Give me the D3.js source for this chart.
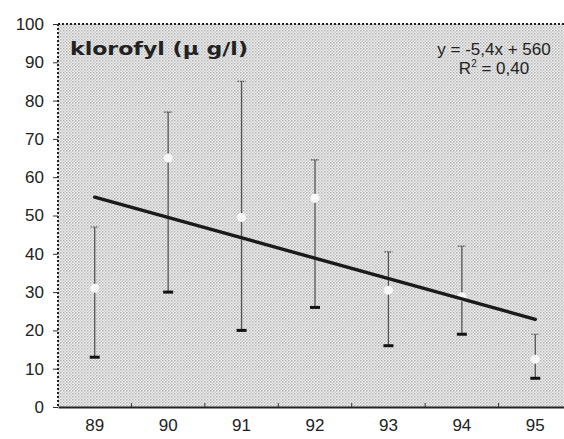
<!DOCTYPE html>
<html>
<head>
<meta charset="utf-8">
<script src="https://cdn.jsdelivr.net/npm/d3@7"></script>
<style>
  body { margin: 0; background: #fff; }
  svg { display: block; }
  text { font-family: "Liberation Sans", Arial, sans-serif; fill: #222; }
</style>
</head>
<body>
<svg width="564" height="439"></svg>
<script>
// chart data
const years = ["89", "90", "91", "92", "93", "94", "95"];
const means = [31, 65, 49.5, 54.5, 30.5, 28.8, 12.5];
const highs = [47, 77, 85, 64.5, 40.5, 42, 19];
const lows = [13, 30, 20, 26, 16, 19, 7.5];
const trend = [54.8, 22.9]; // fitted line at first and last year
const yTicks = [0, 10, 20, 30, 40, 50, 60, 70, 80, 90, 100];

const svg = d3.select("svg");
const plotLeft = 58, plotRight = 572, plotTop = 24, plotBottom = 407;

const x = d3.scaleBand().domain(years).range([plotLeft, plotRight]).padding(0);
const y = d3.scaleLinear().domain([0, 100]).range([plotBottom, plotTop]);

// halftone background
const defs = svg.append("defs");
const pat = defs.append("pattern")
  .attr("id", "dots")
  .attr("width", 3).attr("height", 3)
  .attr("patternUnits", "userSpaceOnUse");
pat.append("rect").attr("width", 3).attr("height", 3).attr("fill", "#ededed");
pat.append("rect").attr("x", 0).attr("y", 0).attr("width", 1.5).attr("height", 1.5).attr("fill", "#b6b6b6");
pat.append("rect").attr("x", 1.5).attr("y", 1.5).attr("width", 1.5).attr("height", 1.5).attr("fill", "#cbcbcb");

svg.append("rect")
  .attr("x", plotLeft).attr("y", plotTop)
  .attr("width", plotRight - plotLeft).attr("height", plotBottom - plotTop)
  .attr("fill", "url(#dots)");

// frame: dotted top and left, solid bottom
svg.append("line")
  .attr("x1", plotLeft).attr("x2", plotRight).attr("y1", plotTop).attr("y2", plotTop)
  .attr("stroke", "#222").attr("stroke-width", 2).attr("stroke-dasharray", "2,2");
svg.append("line")
  .attr("x1", plotLeft).attr("x2", plotLeft).attr("y1", plotTop).attr("y2", plotBottom)
  .attr("stroke", "#222").attr("stroke-width", 2).attr("stroke-dasharray", "2,2");

// y axis
const yAxis = svg.append("g")
  .attr("transform", `translate(${plotLeft},0)`)
  .call(d3.axisLeft(y).tickValues(yTicks).tickSize(5).tickPadding(9));
yAxis.select(".domain").remove();
yAxis.selectAll("line").attr("stroke", "#333");
yAxis.selectAll("text")
  .style("font-family", "Liberation Sans, Arial, sans-serif")
  .style("font-size", "17px").attr("fill", "#222");

// x axis
const xAxis = svg.append("g")
  .attr("transform", `translate(0,${plotBottom})`)
  .call(d3.axisBottom(x).tickSize(0).tickPadding(12));
xAxis.select(".domain")
  .attr("stroke", "#222").attr("stroke-width", 2);
xAxis.selectAll("text")
  .style("font-family", "Liberation Sans, Arial, sans-serif")
  .style("font-size", "17px").attr("fill", "#222");

// small inner ticks on band edges
svg.append("g").selectAll("line")
  .data(years.slice(1))
  .join("line")
  .attr("x1", d => x(d)).attr("x2", d => x(d))
  .attr("y1", plotBottom - 4).attr("y2", plotBottom)
  .attr("stroke", "#333");

const cx = d => x(d) + x.bandwidth() / 2;

// error bars
const bars = svg.append("g").selectAll("g")
  .data(years)
  .join("g");

bars.append("line")
  .attr("x1", cx).attr("x2", cx)
  .attr("y1", (d, i) => y(highs[i])).attr("y2", (d, i) => y(lows[i]))
  .attr("stroke", "#555").attr("stroke-width", 1.3);

bars.append("line")
  .attr("x1", d => cx(d) - 4).attr("x2", d => cx(d) + 4)
  .attr("y1", (d, i) => y(highs[i])).attr("y2", (d, i) => y(highs[i]))
  .attr("stroke", "#444").attr("stroke-width", 1.2).attr("stroke-dasharray", "1.5,1");

bars.append("line")
  .attr("x1", d => cx(d) - 5).attr("x2", d => cx(d) + 5)
  .attr("y1", (d, i) => y(lows[i])).attr("y2", (d, i) => y(lows[i]))
  .attr("stroke", "#111").attr("stroke-width", 3);

// white mean markers
bars.append("circle")
  .attr("cx", cx)
  .attr("cy", (d, i) => y(means[i]))
  .attr("r", 4.5)
  .attr("fill", "#f8f8f8");

// regression line
svg.append("line")
  .attr("x1", cx(years[0])).attr("x2", cx(years[years.length - 1]))
  .attr("y1", y(trend[0])).attr("y2", y(trend[1]))
  .attr("stroke", "#1a1a1a").attr("stroke-width", 3.4)
  .attr("stroke-linecap", "round");

// title
svg.append("text")
  .attr("x", 70).attr("y", 55)
  .attr("textLength", 178).attr("lengthAdjust", "spacingAndGlyphs")
  .style("font-family", "DejaVu Sans, sans-serif")
  .style("font-size", "18px").style("font-weight", "bold")
  .text("klorofyl (µ g/l)");

// equation
const eq = svg.append("text")
  .attr("text-anchor", "middle")
  .style("font-size", "17px");
eq.append("tspan").attr("x", 494).attr("y", 55).text("y = -5,4x + 560");
const r2 = eq.append("tspan").attr("x", 494).attr("y", 74);
r2.text("R");
r2.append("tspan").attr("dy", -7).style("font-size", "10px").text("2");
eq.append("tspan").attr("dy", 7).text(" = 0,40");
</script>
</body>
</html>
